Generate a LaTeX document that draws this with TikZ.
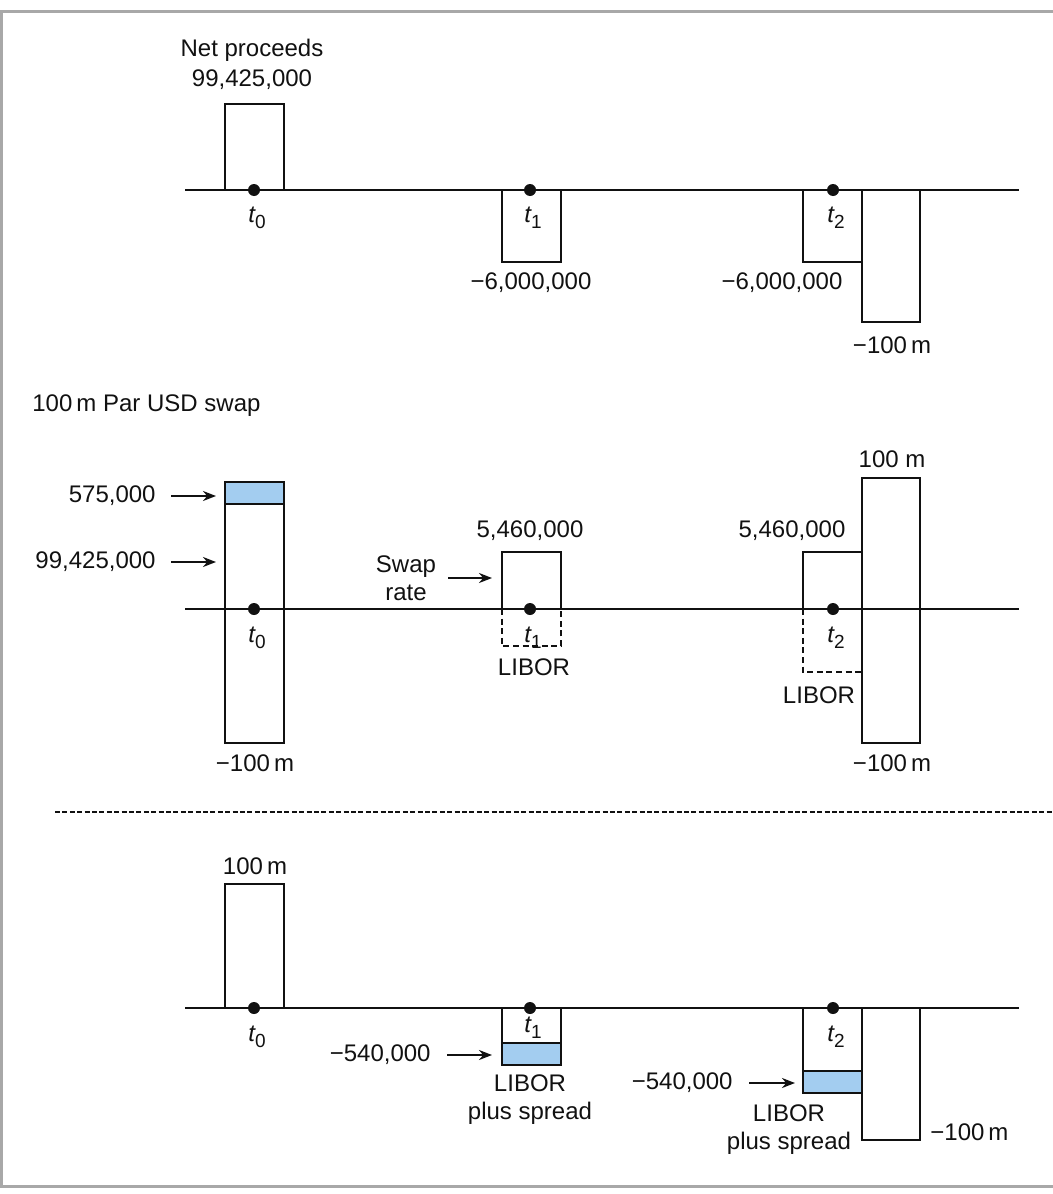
\documentclass[tikz,border=0pt]{standalone}
\usepackage{fontspec}
\setmainfont{Liberation Sans}
\usepackage{tikz}
\usetikzlibrary{arrows.meta,positioning}
\definecolor{ink}{HTML}{111111}
\definecolor{framegray}{HTML}{A8A8A8}
\definecolor{spreadfill}{HTML}{A3CDF0}
\newcommand{\lblfont}{\fontsize{12}{14}\selectfont}
\newcommand{\tlab}[1]{\textit{t}\kern-0.4pt\raisebox{-0.5ex}{\fontsize{9.5}{10}\selectfont #1}}
\tikzset{
  >={Stealth[length=6.5pt,width=5pt]},
  flow/.style={draw=ink, line width=1.2pt},
  flowdash/.style={draw=ink, line width=1.2pt, dash pattern=on 3pt off 1.8pt},
  spread/.style={flow, fill=spreadfill},
  axis/.style={draw=ink, line width=1.1pt},
  tick/.style={circle, fill=ink, inner sep=0pt, minimum size=6pt},
  lbl/.style={font=\lblfont, text=ink, align=center, inner sep=1pt},
  tlbl/.style={lbl, inner sep=0pt},
  arr/.style={->, draw=ink, line width=1.2pt},
  frame/.style={draw=framegray, line width=1.5pt},
  sepline/.style={draw=ink, line width=1pt, dash pattern=on 2.5pt off 1.2pt},
}

\begin{document}
\begin{tikzpicture}[x=0.5pt, y=-0.5pt]
  \useasboundingbox (0,0) rectangle (1053,1194);
  % frame
  \draw[frame] (0,11) -- (1053,11);
  \draw[frame] (1.5,11) -- (1.5,1186);
  \draw[frame] (0,1186) -- (1053,1186);

  % ===================== bond =====================
  \begin{scope}[shift={(0,190)}]
    \draw[axis] (185,0) -- (1019,0);
    \draw[flow] (225,0) -- (225,-86) -- (284,-86) -- (284,0);
    \draw[flow] (502,0) -- (502,72) -- (561,72) -- (561,0);
    \draw[flow] (803,0) -- (803,72) -- (862,72);
    \draw[flow] (862,0) -- (862,132) -- (920,132) -- (920,0);
    \foreach \k/\x in {0/254,1/530,2/833}{
      \node[tick] (bd\k) at (\x,0) {};
      \node[tlbl] (bdt\k) at (\x+3,28) {\tlab{\k}};}
    \node[lbl] (netp) at (252,-140) {Net proceeds};
    \node[lbl] (netv) at (252,-110) {99,425,000};
    \node[lbl] (cpn1) at (531,93) {−6,000,000};
    \node[lbl] (cpn2) at (782,93) {−6,000,000};
    \node[lbl] (red2) at (892,155) {−100\,m};
  \end{scope}

  % ===================== par swap =====================
  \node[lbl, anchor=west] (swaptitle) at (30,406) {100\,m Par USD swap};
  \begin{scope}[shift={(0,609)}]
    \draw[axis] (185,0) -- (1019,0);
    \draw[spread] (225,-127) rectangle (284,-105);
    \draw[flow] (225,-105) rectangle (284,134);
    \draw[flow] (502,0) -- (502,-57) -- (561,-57) -- (561,0);
    \draw[flowdash] (502,0) -- (502,37) -- (561,37) -- (561,0);
    \draw[flow] (803,0) -- (803,-57) -- (862,-57);
    \draw[flowdash] (803,0) -- (803,63) -- (862,63);
    \draw[flow] (862,-131) rectangle (920,134);
    \foreach \k/\x in {0/254,1/530,2/833}{
      \node[tick] (sw\k) at (\x,0) {};
      \node[tlbl] (swt\k) at (\x+3,29) {\tlab{\k}};}
    \node[lbl, anchor=east] (fee) at (158,-113) {575,000};
    \node[lbl, anchor=east] (pv) at (158,-47) {99,425,000};
    \coordinate (feein) at (216,-113);
    \coordinate (pvin) at (216,-47);
    \draw[arr, shorten <=6.5pt] (fee) -- (feein);
    \draw[arr, shorten <=6.5pt] (pv) -- (pvin);
    \node[lbl] (fix1) at (530,-78) {5,460,000};
    \node[lbl] (fix2) at (792,-78) {5,460,000};
    \node[lbl] (swaprate) at (406,-31) {Swap\\rate};
    \coordinate (ratein) at (492,-31);
    \draw[arr, shorten <=5pt] (swaprate) -- (ratein);
    \node[lbl] (libor1) at (534,58) {LIBOR};
    \node[lbl] (libor2) at (819,86) {LIBOR};
    \node[lbl] (prin) at (892,-150) {100 m};
    \node[lbl] (prout0) at (255,154) {−100\,m};
    \node[lbl] (prout2) at (892,154) {−100\,m};
  \end{scope}

  \draw[sepline] (55,812) -- (1053,812);

  % ===================== floating note =====================
  \begin{scope}[shift={(0,1008)}]
    \draw[axis] (185,0) -- (1019,0);
    \draw[flow] (225,0) -- (225,-124) -- (284,-124) -- (284,0);
    \draw[flow] (502,0) -- (502,35) -- (561,35) -- (561,0);
    \draw[spread] (502,35) rectangle (561,57);
    \draw[flow] (803,0) -- (803,63) -- (862,63);
    \draw[spread] (803,63) rectangle (862,85);
    \draw[flow] (862,0) -- (862,132) -- (920,132) -- (920,0);
    \node[tick] (fl0) at (254,0) {};
    \node[tick] (fl1) at (530,0) {};
    \node[tick] (fl2) at (833,0) {};
    \node[tlbl] (flt0) at (257,29) {\tlab{0}};
    \node[tlbl] (flt1) at (533,20) {\tlab{1}};
    \node[tlbl] (flt2) at (836,29) {\tlab{2}};
    \node[lbl] (notein) at (255,-142) {100\,m};
    \node[lbl, anchor=east] (spr1) at (433,47) {−540,000};
    \node[lbl, anchor=east] (spr2) at (735,75) {−540,000};
    \coordinate (spr1in) at (492,47);
    \coordinate (spr2in) at (795,75);
    \draw[arr, shorten <=7pt] (spr1) -- (spr1in);
    \draw[arr, shorten <=7pt] (spr2) -- (spr2in);
    \node[lbl] (lps1) at (530,92) {LIBOR\\plus spread};
    \node[lbl] (lps2) at (789,122) {LIBOR\\plus spread};
    \node[lbl, anchor=west] (noteout) at (928,124) {−100\,m};
  \end{scope}
\end{tikzpicture}
\end{document}
